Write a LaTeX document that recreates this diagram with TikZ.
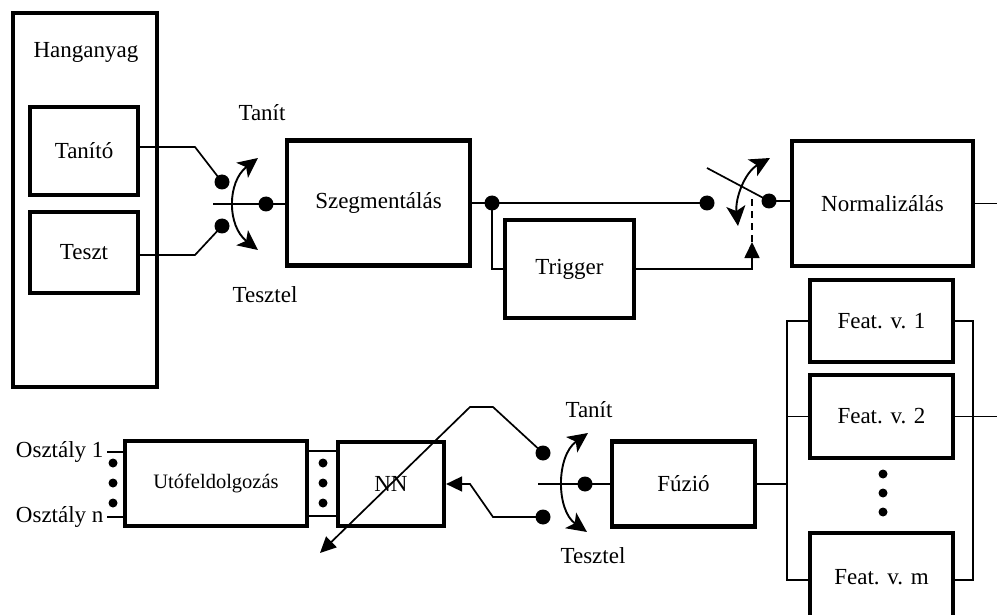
\documentclass[tikz,border=0pt]{standalone}
\usepackage{fontspec}
\setmainfont{Liberation Serif}
\usetikzlibrary{arrows.meta}

\tikzset{
  blokk/.style={draw, line width=4.2pt},
  pont/.style={circle, fill, inner sep=0pt, minimum size=15pt},
  kispont/.style={circle, fill, inner sep=0pt, minimum size=9pt},
  vezetek/.style={line width=1.7pt},
  nyil/.style={line width=1.7pt, -{Triangle[length=16pt,width=15pt]}},
  kapcsolo/.style={line width=1.9pt, {Stealth[length=20pt,width=19pt,inset=5pt]}-{Stealth[length=20pt,width=19pt,inset=5pt]}},
}

\begin{document}
\begin{tikzpicture}[x=1pt,y=-1pt,font=\fontsize{23}{27}\selectfont]
	\useasboundingbox (0,0) rectangle (997,615);
	
	% hanganyag
	\node[blokk, minimum width=144pt, minimum height=374pt] (hang) at (85,200) {};
	\node (hangcim) at (86,52) {Hanganyag};
	\node[blokk, minimum width=108pt, minimum height=88pt] (tanito) at (84,151) {Tanító};
	\node[blokk, minimum width=108pt, minimum height=81pt] (teszt) at (84,252.5) {Teszt};
	
	% elso kapcsolo
	\node[pont] (s1a) at (222,182) {};
	\node[pont] (s1b) at (222,226) {};
	\node[pont] (s1k) at (266,204) {};
	\coordinate (s1be) at (213,204);
	\node[blokk, minimum width=183pt, minimum height=125pt] (szeg) at (378.5,203) {Szegmentálás};
	\draw[vezetek] (tanito.east |- 0,147) -- (195,147) -- (s1a.center);
	\draw[vezetek] (teszt.east |- 0,255) -- (195,255) -- (s1b.center);
	\draw[vezetek] (s1be) -- (s1be -| szeg.west);
	\draw[kapcsolo] (258,158) .. controls (227,182) and (227,226) .. (258,250);
	\node (tanit1) at (262,113) {Tanít};
	\node (tesztel1) at (265,295) {Tesztel};
	
	% trigger
	\node[pont] (t1) at (492,203) {};
	\node[pont] (s2a) at (707,203) {};
	\node[pont] (s2k) at (769,201) {};
	\node[blokk, minimum width=129pt, minimum height=98pt] (trig) at (569.5,269) {Trigger};
	\node[blokk, minimum width=181pt, minimum height=125pt] (norm) at (882.5,203.5) {Normalizálás};
	\draw[vezetek] (szeg.east |- t1) -- (t1.center) -- (s2a.center);
	\draw[vezetek] (t1.center) |- (trig.west);
	\coordinate (trigcel) at (752,242);
	\draw[nyil] (trig.east) -| (trigcel);
	\draw[vezetek, dashed, dash pattern=on 7pt off 5pt] (trigcel) -- (752,198);
	\coordinate (s2kar) at (707,168);
	\draw[vezetek] (s2kar) -- (s2k.center) -- (s2k -| norm.west);
	\draw[kapcsolo] (770,158) .. controls (745,172) and (735,198) .. (738,226);
	\draw[vezetek] (norm.east) -- (997,203.5);
	
	% jellemzok
	\node[blokk, minimum width=143pt, minimum height=82pt] (fv1) at (881.5,321) {Feat. v. 1};
	\node[blokk, minimum width=143pt, minimum height=83pt] (fv2) at (881.5,416.5) {Feat. v. 2};
	\node[blokk, minimum width=143pt, minimum height=88pt] (fvm) at (881.5,577) {Feat. v. m};
	\foreach \y [count=\i] in {474,493,512}
		\node[kispont] (fp\i) at (883,\y) {};
	\coordinate (bal) at (787,483);
	\coordinate (jobb) at (973,483);
	\draw[vezetek] (fv1.west) -| (bal) |- ([yshift=-3pt]fvm.west);
	\draw[vezetek] (fv2.west) -- (fv2.west -| bal);
	\draw[vezetek] (fv1.east) -| (jobb) |- ([yshift=-3pt]fvm.east);
	\draw[vezetek] (fv2.east) -- (997,416.5);
	
	% fuzio
	\node[blokk, minimum width=143pt, minimum height=85pt] (fuzio) at (683.5,484) {Fúzió};
	\draw[vezetek] (fuzio.east) -- (fuzio.east -| bal);
	
	% masodik kapcsolo
	\node[pont] (s3a) at (543,453) {};
	\node[pont] (s3b) at (543,517) {};
	\node[pont] (s3k) at (585,484) {};
	\coordinate (s3be) at (538,484);
	\draw[vezetek] (s3be) -- (fuzio.west);
	\draw[kapcsolo] (588,433) .. controls (556,456) and (556,510) .. (587,532);
	\node (tanit2) at (589,410) {Tanít};
	\node (tesztel2) at (593,556) {Tesztel};
	
	% NN es utofeldolgozas
	\node[blokk, minimum width=106pt, minimum height=84pt] (nn) at (391,484) {NN};
	\node[blokk, minimum width=182pt, minimum height=85pt, font=\fontsize{20.5}{24}\selectfont] (uto) at (216,483.5) {Utófeldolgozás};
	\coordinate (tanul) at (320,553);
	\draw[nyil] (s3a.center) -- (493,407) -- (470,407) -- (tanul);
	\draw[nyil] (s3b.center) -- (493,517) -- (470,484) -- (nn.east);
	\draw[vezetek] (uto.east |- 0,451) -- (nn.west |- 0,451);
	\draw[vezetek] (uto.east |- 0,516) -- (nn.west |- 0,516);
	\foreach \y [count=\i] in {463,483,503}
		\node[kispont] (kp\i) at (323,\y) {};
	
	% osztalyok
	\node[anchor=east] (o1) at (107,452) {Osztály 1};
	\node[anchor=east] (on) at (107,517) {Osztály n};
	\draw[vezetek] (o1.east) -- (o1.east -| uto.west);
	\draw[vezetek] (on.east) -- (on.east -| uto.west);
	\foreach \y [count=\i] in {463,483,503}
		\node[kispont] (op\i) at (113,\y) {};
\end{tikzpicture}
\end{document}
